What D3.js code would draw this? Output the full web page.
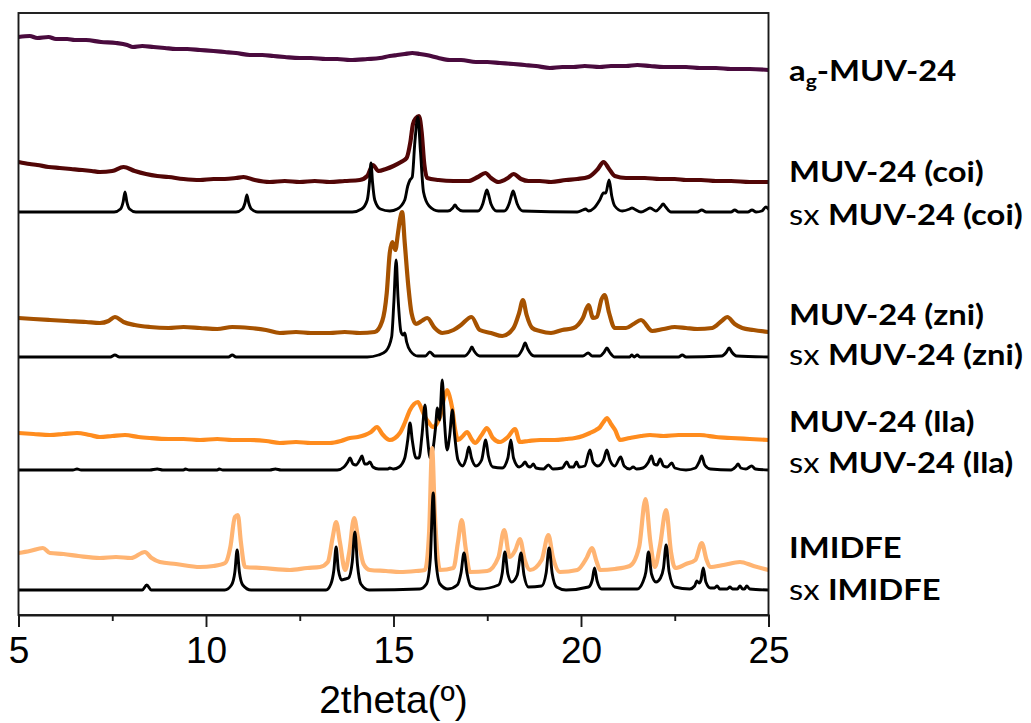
<!DOCTYPE html>
<html>
<head>
<meta charset="utf-8">
<script src="https://cdn.jsdelivr.net/npm/d3@7/dist/d3.min.js"></script>
<style>
  html, body { margin: 0; padding: 0; background: #ffffff; }
  svg { display: block; }
</style>
</head>
<body>
<svg id="chart" width="1031" height="723"></svg>
<script>
// ---------------- DATA (2theta in degrees, intensity in a.u. above each trace's own baseline) ----------------
const xTickValues = [5, 10, 15, 20, 25];
const xMinorTickValues = [7.5, 12.5, 17.5, 22.5];
const xAxisTitle = "2theta(º)";

// trace order, top to bottom
const traceKeys = ["agMUV24", "coi", "sxCoi", "zni", "sxZni", "lla", "sxLla", "imidfe", "sxImidfe"];
const traceOffsets = [545, 433, 403, 282, 258, 172, 145, 43, 25];

const agMUV24 = [[5.0,33],[5.3,34],[5.5,32],[5.8,33],[6.0,31],[6.3,31],[6.5,30],[6.8,30],[7.2,28],[7.6,27],[7.9,25],[8.05,23],[8.3,24],[8.6,23],[8.9,22],[9.2,21],[9.5,21],[9.84,20],[10.2,19],[10.5,18],[10.8,17],[11.17,15],[11.5,15],[11.8,14],[12.1,13],[12.5,12],[12.8,12],[13.2,11],[13.5,11],[13.84,10],[14.3,11],[14.64,12],[14.9,14],[15.1,15],[15.3,16],[15.5,17],[15.7,16],[16.0,14],[16.2,12],[16.5,10],[16.8,10],[17.2,8],[17.5,8],[17.84,7],[18.2,6],[18.5,5],[18.8,4],[19.17,2],[19.5,3],[19.8,3],[20.1,4],[20.5,3],[20.8,4],[21.2,4],[21.5,5],[21.84,4],[22.2,3],[22.5,3],[22.8,3],[23.17,2],[23.6,2],[24.0,1],[24.5,1],[25.0,0]];

const coi = [[5.0,20],[5.3,18],[5.5,17],[5.8,15],[6.1,14],[6.4,13],[6.7,12],[6.95,11],[7.17,10],[7.5,11],[7.8,15],[8.1,11],[8.4,8],[8.7,6],[9.0,5],[9.4,3],[9.84,2],[10.2,3],[10.5,3],[10.8,4],[11.0,5],[11.3,2],[11.7,0],[12.1,1],[12.5,0],[12.9,1],[13.3,0],[13.7,1],[14.1,2],[14.3,6],[14.45,17],[14.6,11],[14.8,13],[15.0,16],[15.2,20],[15.35,24],[15.45,40],[15.52,58],[15.6,64],[15.68,66],[15.75,50],[15.82,18],[15.9,4],[16.2,2],[16.6,1],[17.0,1],[17.25,5],[17.45,9],[17.6,4],[17.8,0],[18.05,4],[18.2,8],[18.4,3],[18.6,1],[18.9,1],[19.2,0],[19.6,2],[19.9,3],[20.2,5],[20.45,13],[20.6,20],[20.75,13],[20.9,6],[21.2,4],[21.7,4],[22.1,3],[22.5,3],[22.8,2],[23.2,2],[23.6,1],[24.0,1],[24.5,0],[25.0,0]];

const sxCoi = [[5,0],[7.55,0],[7.72,3],[7.79,10],[7.84,20],[7.89,10],[7.96,3],[8.13,0],[10.8,0],[10.97,3],[11.04,9],[11.09,17],[11.14,9],[11.21,3],[11.38,0],[13.9,0],[14.15,3],[14.3,12],[14.36,30],[14.4,49],[14.44,30],[14.5,12],[14.65,3],[14.9,1],[15.1,3],[15.3,12],[15.38,26],[15.44,32],[15.5,35],[15.57,70],[15.65,95],[15.72,60],[15.8,20],[15.95,6],[16.2,1],[16.45,1],[16.58,4],[16.64,7],[16.7,4],[16.85,1],[17.25,1],[17.38,8],[17.45,18],[17.49,22],[17.53,18],[17.6,8],[17.75,1],[17.95,1],[18.08,8],[18.15,17],[18.19,21],[18.23,17],[18.3,8],[18.45,1],[19.9,0],[20.05,2],[20.12,3],[20.2,1],[20.35,4],[20.5,12],[20.6,19],[20.66,19],[20.75,32],[20.82,16],[20.9,6],[21.1,1],[21.3,3],[21.36,4],[21.42,3],[21.6,0],[21.78,3],[21.84,4],[21.9,3],[22.0,1],[22.12,5],[22.19,8],[22.26,5],[22.4,0],[23.1,0],[23.22,2],[23.34,0],[24.0,0],[24.1,2],[24.2,0],[24.45,0],[24.56,2],[24.67,0],[24.82,1],[24.93,5],[25,3]];

const zni = [[5.0,15],[5.4,14],[5.84,13],[6.3,12],[6.8,11],[7.17,10],[7.4,12],[7.57,16],[7.8,11],[8.1,8],[8.5,6],[9.0,5],[9.4,6],[9.84,5],[10.3,4],[10.7,6],[11.17,5],[11.6,3],[11.97,0],[12.4,1],[12.8,0],[13.3,0],[13.7,1],[14.1,0],[14.5,1],[14.7,12],[14.82,40],[14.9,80],[14.97,91],[15.05,83],[15.12,100],[15.18,115],[15.23,121],[15.3,90],[15.4,45],[15.48,20],[15.6,9],[15.75,12],[15.9,15],[16.1,5],[16.3,0],[16.6,3],[16.8,8],[17.08,16],[17.3,3],[17.6,0],[17.9,-3],[18.2,5],[18.35,20],[18.45,33],[18.55,18],[18.7,5],[18.9,2],[19.2,0],[19.5,3],[19.8,5],[20.05,15],[20.2,28],[20.32,15],[20.42,16],[20.55,34],[20.63,38],[20.75,20],[20.9,5],[21.2,5],[21.4,9],[21.6,13],[21.9,2],[22.2,4],[22.5,6],[22.8,5],[23.1,4],[23.5,5],[23.75,12],[23.9,16],[24.1,9],[24.3,5],[24.6,3],[25.0,1]];

const sxZni = [[5,0],[7.45,0],[7.57,2],[7.69,0],[10.6,0],[10.7,2],[10.8,0],[14.3,0],[14.6,2],[14.8,6],[14.95,20],[15.01,55],[15.07,97],[15.12,60],[15.2,25],[15.26,22],[15.3,24],[15.35,15],[15.45,6],[15.65,1],[15.85,1],[15.97,5],[16.1,1],[16.9,1],[17.03,6],[17.09,10],[17.15,6],[17.3,1],[18.3,1],[18.44,8],[18.51,14],[18.58,8],[18.75,1],[20.05,1],[20.19,4],[20.3,1],[20.5,1],[20.62,5],[20.69,9],[20.76,5],[20.9,0],[21.3,0],[21.35,2],[21.42,0],[21.5,2],[21.57,0],[22.6,0],[22.7,2],[22.8,0],[23.75,1],[23.88,5],[23.95,9],[24.02,5],[24.15,1],[25,0]];

const lla = [[5.0,10],[5.4,9],[5.84,8],[6.2,9],[6.56,10],[6.9,8],[7.17,6],[7.5,7],[7.84,8],[8.2,6],[8.5,5],[9.0,4],[9.4,4],[9.84,3],[10.3,4],[10.7,3],[11.17,3],[11.6,2],[11.97,0],[12.4,1],[12.8,0],[13.3,0],[13.6,2],[13.84,5],[14.05,6],[14.24,8],[14.4,11],[14.56,16],[14.7,9],[14.9,3],[15.17,10],[15.3,20],[15.44,33],[15.55,39],[15.65,41],[15.75,34],[15.84,26],[15.95,20],[16.05,16],[16.15,19],[16.24,26],[16.35,45],[16.43,53],[16.5,46],[16.56,36],[16.65,12],[16.72,3],[16.85,7],[16.96,11],[17.08,4],[17.17,0],[17.35,8],[17.49,15],[17.65,5],[17.84,1],[18.05,6],[18.24,14],[18.37,1],[18.6,2],[18.91,3],[19.3,3],[19.6,4],[19.84,5],[20.05,7],[20.24,10],[20.4,13],[20.51,16],[20.6,21],[20.69,25],[20.8,19],[20.91,13],[21.04,3],[21.3,5],[21.6,7],[21.84,8],[22.2,7],[22.6,8],[23.17,8],[23.6,6],[24.0,5],[24.5,4],[25.0,3]];

const sxLla = [[5,0],[6.45,0],[6.56,1],[6.67,0],[8.5,0],[8.7,1],[8.85,0],[9.4,0],[9.45,1],[9.55,0],[10.3,0],[10.35,1],[10.45,0],[11.7,0],[11.85,1],[12.0,0],[13.5,0],[13.68,3],[13.78,8],[13.84,12],[13.92,6],[14.0,5],[14.1,10],[14.16,14],[14.23,6],[14.3,6],[14.37,8],[14.45,3],[14.6,1],[14.85,1],[14.9,2],[15.0,1],[15.15,3],[15.3,12],[15.38,30],[15.44,47],[15.5,30],[15.6,12],[15.68,12],[15.76,35],[15.84,65],[15.9,35],[15.98,12],[16.05,20],[16.12,42],[16.17,62],[16.23,50],[16.3,90],[16.36,48],[16.43,20],[16.5,35],[16.57,60],[16.63,35],[16.72,10],[16.85,4],[16.94,12],[17.01,23],[17.08,12],[17.2,4],[17.35,10],[17.46,30],[17.53,14],[17.65,3],[17.9,2],[18.05,12],[18.13,30],[18.2,12],[18.35,3],[18.44,5],[18.51,8],[18.58,4],[18.65,3],[18.73,6],[18.8,2],[19.0,1],[19.13,5],[19.25,1],[19.5,2],[19.62,8],[19.7,3],[19.8,3],[19.88,8],[19.95,3],[20.1,4],[20.24,20],[20.32,8],[20.45,4],[20.6,10],[20.69,20],[20.77,10],[20.9,4],[21.06,13],[21.15,4],[21.3,1],[21.39,3],[21.48,1],[21.65,2],[21.8,8],[21.88,14],[21.95,6],[22.03,5],[22.11,11],[22.2,4],[22.3,3],[22.42,7],[22.5,2],[22.8,0],[23.05,2],[23.15,8],[23.22,14],[23.3,5],[23.45,1],[24.0,0],[24.12,3],[24.19,6],[24.26,2],[24.4,1],[24.55,4],[24.65,1],[25,0]];

const imidfe = [[5.0,19],[5.3,21],[5.65,24],[5.84,19],[6.2,18],[6.6,16],[7.17,14],[7.6,15],[8.0,14],[8.37,20],[8.55,14],[8.77,10],[9.2,8],[9.84,5],[10.2,6],[10.51,9],[10.65,25],[10.77,55],[10.85,57],[10.93,30],[11.04,5],[11.5,4],[12.24,2],[12.7,4],[13.04,5],[13.25,10],[13.38,35],[13.47,50],[13.57,30],[13.71,2],[13.82,20],[13.95,54],[14.05,35],[14.2,8],[14.37,2],[14.8,1],[15.17,0],[15.6,1],[15.84,2],[15.95,40],[16.03,124],[16.1,60],[16.24,2],[16.6,4],[16.72,30],[16.82,52],[16.92,25],[17.04,0],[17.5,1],[17.8,15],[17.95,42],[18.1,15],[18.25,22],[18.37,33],[18.5,12],[18.64,2],[18.95,12],[19.13,37],[19.25,15],[19.44,0],[19.9,2],[20.15,14],[20.29,24],[20.42,10],[20.51,2],[20.9,3],[21.3,6],[21.55,25],[21.72,73],[21.85,30],[21.97,5],[22.1,25],[22.27,62],[22.4,20],[22.51,4],[22.8,8],[23.05,12],[23.22,29],[23.35,12],[23.44,5],[23.8,7],[24.24,10],[24.6,6],[25.0,2]];

const sxImidfe = [[5,0],[8.3,0],[8.42,5],[8.54,0],[10.5,0],[10.68,5],[10.77,18],[10.83,40],[10.89,18],[10.98,5],[11.2,0],[13.2,0],[13.33,6],[13.41,20],[13.47,43],[13.53,20],[13.62,10],[13.71,11],[13.8,12],[13.9,28],[13.97,58],[14.04,25],[14.13,6],[14.35,0],[15.7,1],[15.88,6],[15.98,30],[16.06,97],[16.13,30],[16.24,6],[16.45,1],[16.7,5],[16.8,17],[16.88,37],[16.96,17],[17.06,4],[17.3,1],[17.8,5],[17.9,17],[17.97,38],[18.05,16],[18.15,8],[18.3,15],[18.4,37],[18.48,15],[18.6,3],[18.95,4],[19.07,17],[19.15,42],[19.23,17],[19.35,3],[19.6,0],[20.2,3],[20.3,10],[20.36,22],[20.43,9],[20.55,1],[21.5,1],[21.65,8],[21.73,18],[21.8,38],[21.88,16],[22.0,8],[22.12,12],[22.2,22],[22.27,45],[22.35,18],[22.5,3],[22.9,1],[23.03,4],[23.09,9],[23.15,7],[23.2,10],[23.26,22],[23.33,8],[23.45,2],[23.56,2],[23.63,4],[23.7,1],[23.9,1],[23.97,3],[24.04,1],[24.17,1],[24.24,4],[24.31,1],[24.36,1],[24.42,4],[24.5,1],[25,0]];

const traceLabels = [
  {pre: "", main: "a", sub: "g", post: "-MUV-24"},
  {pre: "", main: "MUV-24 (coi)"},
  {pre: "sx ", main: "MUV-24 (coi)"},
  {pre: "", main: "MUV-24 (zni)"},
  {pre: "sx ", main: "MUV-24 (zni)"},
  {pre: "", main: "MUV-24 (lla)"},
  {pre: "sx ", main: "MUV-24 (lla)"},
  {pre: "", main: "IMIDFE"},
  {pre: "sx ", main: "IMIDFE"}
];

// ---------------- STYLE / LAYOUT ----------------
const traceColors = ["#4a0b3e", "#520606", "#000000", "#a65200", "#000000", "#ff8c1e", "#000000", "#ffb472", "#000000"];
const traceWidths = [4.2, 4.2, 2.9, 4.2, 2.9, 4.2, 2.9, 4.2, 2.9];
const labelBaselines = [81, 182, 225, 325, 365, 432, 473, 558, 600];

const dataByKey = {agMUV24, coi, sxCoi, zni, sxZni, lla, sxLla, imidfe, sxImidfe};

const svg = d3.select("#chart");
const plotLeft = 18.5, plotRight = 768.5, plotTop = 13, plotBottom = 615;

const x = d3.scaleLinear().domain([5, 25]).range([plotLeft, plotRight]);
const y = d3.scaleLinear().domain([0, 602]).range([plotBottom, plotTop]);

svg.append("rect").attr("width", 1031).attr("height", 723).attr("fill", "#fff");

const clip = svg.append("defs").append("clipPath").attr("id", "plotclip");
clip.append("rect").attr("x", plotLeft).attr("y", plotTop).attr("width", plotRight - plotLeft).attr("height", plotBottom - plotTop);

const plot = svg.append("g").attr("clip-path", "url(#plotclip)");

traceKeys.forEach((key, i) => {
  const off = traceOffsets[i];
  const line = d3.line()
    .x(d => x(d[0]))
    .y(d => y(d[1] + off))
    .curve(d3.curveMonotoneX);
  plot.append("path")
    .datum(dataByKey[key])
    .attr("d", line)
    .attr("fill", "none")
    .attr("stroke", traceColors[i])
    .attr("stroke-width", traceWidths[i])
    .attr("stroke-linejoin", "round")
    .attr("stroke-linecap", "round");
});

// frame
svg.append("rect")
  .attr("x", plotLeft).attr("y", plotTop)
  .attr("width", plotRight - plotLeft).attr("height", plotBottom - plotTop)
  .attr("fill", "none").attr("stroke", "#1a1a1a").attr("stroke-width", 1.9);

// x axis major
const xAxis = d3.axisBottom(x).tickValues(xTickValues).tickSize(12).tickPadding(10).tickFormat(d3.format("d"));
const gx = svg.append("g").attr("transform", `translate(0,${plotBottom})`).call(xAxis);
gx.attr("font-family", null).attr("font-size", null);
gx.select(".domain").attr("stroke", "#1a1a1a").attr("stroke-width", 1.9);
gx.selectAll(".tick line").attr("stroke", "#1a1a1a").attr("stroke-width", 1.9);
gx.selectAll(".tick text")
  .attr("fill", "#000")
  .style("font-family", "'Liberation Sans', Arimo, Arial, sans-serif")
  .style("font-size", "37px");

// minor ticks
const xMinor = d3.axisBottom(x).tickValues(xMinorTickValues).tickSize(6).tickFormat("");
const gm = svg.append("g").attr("transform", `translate(0,${plotBottom})`).call(xMinor);
gm.select(".domain").remove();
gm.selectAll(".tick line").attr("stroke", "#1a1a1a").attr("stroke-width", 1.9);

// axis title
svg.append("text")
  .attr("x", (plotLeft + plotRight) / 2).attr("y", 713)
  .attr("text-anchor", "middle")
  .style("font-family", "'Liberation Sans', Arimo, Arial, sans-serif")
  .style("font-size", "39px")
  .attr("fill", "#000")
  .text(xAxisTitle);

// trace labels (bold, slightly widened to match the reference letterforms)
const lg = svg.append("g").style("font-family", "Lato, 'Open Sans', sans-serif").style("font-size", "28px").attr("fill", "#000");
traceLabels.forEach((lab, i) => {
  const t = lg.append("text")
    .attr("x", 0).attr("y", 0)
    .attr("transform", `translate(789,${labelBaselines[i]}) scale(1.17,1)`);
  if (lab.pre) t.append("tspan").style("font-weight", "400").text(lab.pre);
  t.append("tspan").style("font-weight", "700").text(lab.main);
  if (lab.sub) {
    t.append("tspan").style("font-weight", "700").style("font-size", "18px").attr("dy", 7).text(lab.sub);
    t.append("tspan").style("font-weight", "700").attr("dy", -7).text(lab.post);
  }
});
</script>
</body>
</html>
